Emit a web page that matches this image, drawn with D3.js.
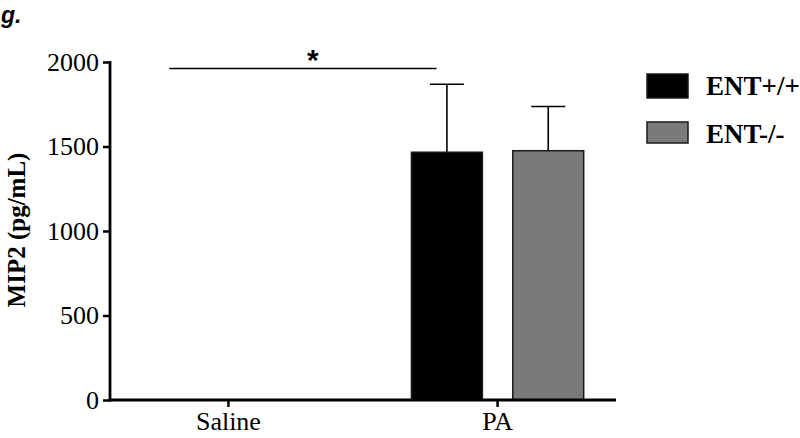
<!DOCTYPE html>
<html>
<head>
<meta charset="utf-8">
<script src="https://cdn.jsdelivr.net/npm/d3@7"></script>
<style>
  body { margin: 0; background: #fff; }
</style>
</head>
<body>
<div id="chart"></div>
<script>
  // data
  const groups = ["Saline", "PA"];
  const series = ["ENT+/+", "ENT-/-"];
  const colors = ["#000000", "#7a7a7a"];
  const means = { "Saline": [0, 0], "PA": [1466, 1475] };
  const errors = { "Saline": [0, 0], "PA": [402, 262] };
  const yTicks = [0, 500, 1000, 1500, 2000];

  const serif = "Liberation Serif, Times New Roman, serif";
  const sans = "Liberation Sans, Arial, sans-serif";

  const W = 800, H = 438;
  const svg = d3.select("#chart")
    .append("svg")
    .attr("width", W)
    .attr("height", H)
    .attr("font-family", serif);

  const x0 = d3.scaleBand()
    .domain(groups)
    .range([110, 616])
    .paddingInner(0.36)
    .paddingOuter(0.12);

  const x1 = d3.scaleBand()
    .domain(series)
    .range([0, x0.bandwidth()])
    .paddingInner(0.3);

  const y = d3.scaleLinear()
    .domain([0, 2000])
    .range([400, 62]);

  const rows = [];
  groups.forEach(g => series.forEach((s, i) => {
    rows.push({ group: g, s, i, v: means[g][i], e: errors[g][i] });
  }));
  const shown = rows.filter(d => d.v > 0);

  // error bars (upper only)
  const eb = svg.append("g").attr("stroke", "#000").attr("stroke-width", 1.6);
  eb.selectAll("line.v")
    .data(shown)
    .join("line")
    .attr("x1", d => x0(d.group) + x1(d.s) + x1.bandwidth() / 2)
    .attr("x2", d => x0(d.group) + x1(d.s) + x1.bandwidth() / 2)
    .attr("y1", d => y(d.v))
    .attr("y2", d => y(d.v + d.e));
  eb.selectAll("line.c")
    .data(shown)
    .join("line")
    .attr("x1", d => x0(d.group) + x1(d.s) + x1.bandwidth() / 2 - 17)
    .attr("x2", d => x0(d.group) + x1(d.s) + x1.bandwidth() / 2 + 17)
    .attr("y1", d => y(d.v + d.e))
    .attr("y2", d => y(d.v + d.e));

  // bars
  svg.append("g")
    .selectAll("rect")
    .data(shown)
    .join("rect")
    .attr("x", d => x0(d.group) + x1(d.s))
    .attr("y", d => y(d.v))
    .attr("width", x1.bandwidth())
    .attr("height", d => y(0) - y(d.v))
    .attr("fill", d => colors[d.i])
    .attr("stroke", "#1a1a1a")
    .attr("stroke-width", 1.5);

  // axes
  const yAxis = svg.append("g")
    .attr("transform", "translate(110,0)")
    .call(d3.axisLeft(y).tickValues(yTicks).tickFormat(d3.format("d"))
      .tickSize(7).tickSizeOuter(0).tickPadding(4));
  const xAxis = svg.append("g")
    .attr("transform", "translate(0,400)")
    .call(d3.axisBottom(x0).tickSize(7).tickSizeOuter(0).tickPadding(5));
  [yAxis, xAxis].forEach(a => {
    a.attr("font-family", serif);
    a.select(".domain").attr("stroke-width", 2.8).attr("stroke", "#000");
    a.selectAll(".tick line").attr("stroke-width", 2.5);
    a.selectAll(".tick text")
      .attr("font-size", 26)
      .attr("fill", "#000");
  });
  // extend axis lines to meet at the corner
  yAxis.select(".domain").attr("d", "M0,61V401.4");
  xAxis.select(".domain").attr("d", "M108.6,0H616");

  // y label
  svg.append("text")
    .attr("transform", "translate(25,230) rotate(-90)")
    .attr("text-anchor", "middle")
    .attr("font-size", 25)
    .attr("font-weight", "bold")
    .text("MIP2 (pg/mL)");

  // significance bracket
  const sx1 = x0("Saline") + x1("ENT+/+") + 27;
  const sx2 = x0("PA") + x1("ENT+/+") + 25;
  svg.append("line")
    .attr("x1", sx1).attr("x2", sx2)
    .attr("y1", 68.5).attr("y2", 68.5)
    .attr("stroke", "#000").attr("stroke-width", 1.5);
  svg.append("text")
    .attr("x", (sx1 + sx2) / 2 + 10)
    .attr("y", 70)
    .attr("text-anchor", "middle")
    .attr("font-family", sans)
    .attr("font-size", 30)
    .attr("font-weight", "bold")
    .text("*");

  // legend
  const leg = svg.append("g");
  series.forEach((s, i) => {
    const ly = 74 + i * 48;
    leg.append("rect")
      .attr("x", 647).attr("y", ly)
      .attr("width", 41).attr("height", i === 0 ? 24 : 21)
      .attr("fill", colors[i])
      .attr("stroke", "#1a1a1a").attr("stroke-width", 1.5);
    leg.append("text")
      .attr("x", 706).attr("y", ly + 21)
      .attr("font-size", 27)
      .attr("font-weight", "bold")
      .text(s);
  });

  // panel letter
  svg.append("text")
    .attr("x", 1).attr("y", 23)
    .attr("font-family", sans)
    .attr("font-size", 23)
    .attr("font-weight", "bold")
    .attr("font-style", "italic")
    .text("g.");
</script>
</body>
</html>
